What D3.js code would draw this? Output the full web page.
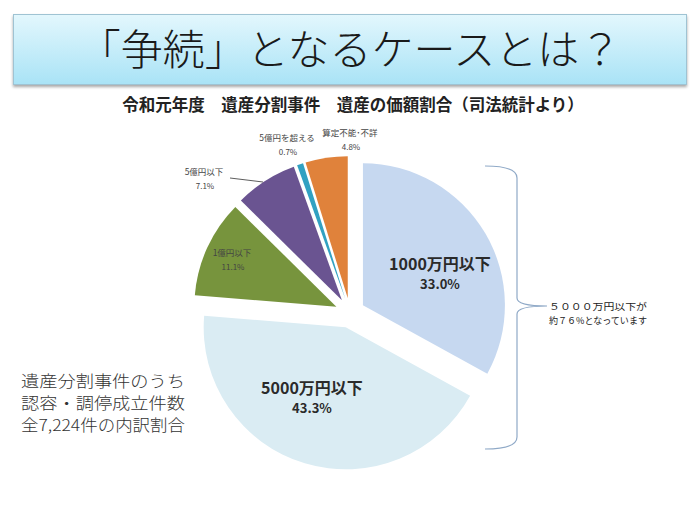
<!DOCTYPE html>
<html><head><meta charset="utf-8">
<script src="https://cdn.jsdelivr.net/npm/d3@7"></script>
<style>
html,body{margin:0;padding:0;background:#fff;}
svg{display:block;font-family:"Noto Sans CJK JP","Noto Sans",sans-serif;}
</style></head>
<body><svg id="c" width="700" height="525"></svg>
<script>
const categories = ["1000万円以下","5000万円以下","1億円以下","5億円以下","5億円を超える","算定不能･不詳"];
const values = [33.0, 43.3, 11.1, 7.1, 0.7, 4.8];
const colors = ["#c6d8f0","#daecf3","#77943d","#6a5491","#31a1c2","#e0823b"];
const titleText = "「争続」となるケースとは？";
const subtitle = "令和元年度　遺産分割事件　遺産の価額割合（司法統計より）";
const noteLines = ["遺産分割事件のうち","認容・調停成立件数","全7,224件の内訳割合"];
const braceLines = ["５０００万円以下が","約７６%となっています"];

(function(){
const svg = d3.select("#c");
const defs = svg.append("defs");
const g1 = defs.append("linearGradient").attr("id","tg").attr("x1",0).attr("y1",0).attr("x2",0).attr("y2",1);
g1.append("stop").attr("offset","0%").attr("stop-color","#e3f7fd");
g1.append("stop").attr("offset","100%").attr("stop-color","#a9e3f6");
const f = defs.append("filter").attr("id","sh").attr("x","-5%").attr("y","-20%").attr("width","110%").attr("height","150%");
f.append("feGaussianBlur").attr("in","SourceAlpha").attr("stdDeviation",1.5);
f.append("feOffset").attr("dx",0).attr("dy",2).attr("result","b");
f.append("feComponentTransfer").append("feFuncA").attr("type","linear").attr("slope",0.35);
const m = f.append("feMerge"); m.append("feMergeNode"); m.append("feMergeNode").attr("in","SourceGraphic");

// Title box
svg.append("rect").attr("x",13.5).attr("y",14.5).attr("width",673).attr("height",70)
  .attr("fill","url(#tg)").attr("stroke","#9fc3d3").attr("stroke-width",1).attr("filter","url(#sh)");
svg.append("text").attr("x",350).attr("y",65).attr("text-anchor","middle")
  .attr("font-size",42).attr("font-weight",300).attr("fill","#1a1a1a").text(titleText);

svg.append("text").attr("x",353).attr("y",111).attr("text-anchor","middle")
  .attr("font-size",16.5).attr("font-weight",700).attr("fill","#222").text(subtitle);

// Pie
const cx = 350, cy = 313, R = 142, explode = 15;
const pie = d3.pie().sort(null).value(d => d)(values);
const arc = d3.arc().innerRadius(0).outerRadius(R);
const gp = svg.append("g").attr("transform",`translate(${cx},${cy})`);
gp.selectAll("path").data(pie).join("path")
  .attr("d", arc)
  .attr("fill", (d,i) => colors[i])
  .attr("transform", d => {
    const a = (d.startAngle + d.endAngle)/2;
    return `translate(${explode*Math.sin(a)},${-explode*Math.cos(a)})`;
  });

// Inside labels (big slices)
const inside = [
  {i:0, x:440, y:270},
  {i:1, x:312, y:394}
];
inside.forEach(o => {
  svg.append("text").attr("x",o.x).attr("y",o.y).attr("text-anchor","middle")
    .attr("font-size",16).attr("font-weight",700).attr("fill","#2a2a2a").text(categories[o.i]);
  svg.append("text").attr("x",o.x).attr("y",o.y+19).attr("text-anchor","middle")
    .attr("font-size",13).attr("font-weight",700).attr("fill","#2a2a2a").text(values[o.i].toFixed(1)+"%");
});

// Small labels
const small = [
  {i:2, x:232, y:256},
  {i:3, x:204, y:175},
  {i:4, x:287, y:141},
  {i:5, x:350, y:136}
];
small.forEach(o => {
  svg.append("text").attr("x",o.x).attr("y",o.y).attr("text-anchor","middle")
    .attr("font-size",8.5).attr("fill","#444").text(categories[o.i]);
  svg.append("text").attr("x",o.x+1).attr("y",o.y+14).attr("text-anchor","middle")
    .attr("font-size",8).attr("fill","#444").text(values[o.i].toFixed(1)+"%");
});
// leader line for 5億円以下
svg.append("path").attr("d","M230,178 L263,182").attr("stroke","#333").attr("stroke-width",0.8).attr("fill","none");

// Brace
const bx = 517, bTop = 166, bBot = 449, bMid = 306;
svg.append("path")
  .attr("d",`M485,${bTop} Q${bx},${bTop} ${bx},${bTop+12} L${bx},${bMid-8} Q${bx},${bMid} ${bx+30},${bMid} Q${bx},${bMid} ${bx},${bMid+8} L${bx},${bBot-12} Q${bx},${bBot} 485,${bBot}`)
  .attr("fill","none").attr("stroke","#8fa9c7").attr("stroke-width",1.2);

braceLines.forEach((t,k) => {
  svg.append("text").attr("x",549).attr("y",310+k*14).attr("font-size",9.3).attr("fill","#222")
    .attr("textLength",98).attr("lengthAdjust","spacingAndGlyphs").text(t);
});

// Note lines
noteLines.forEach((t,k) => {
  svg.append("text").attr("x",21).attr("y",387+k*22).attr("font-size",16).attr("font-weight",300).attr("fill","#333")
    .attr("textLength",164).attr("lengthAdjust","spacingAndGlyphs").text(t);
});
})();
</script></body></html>
